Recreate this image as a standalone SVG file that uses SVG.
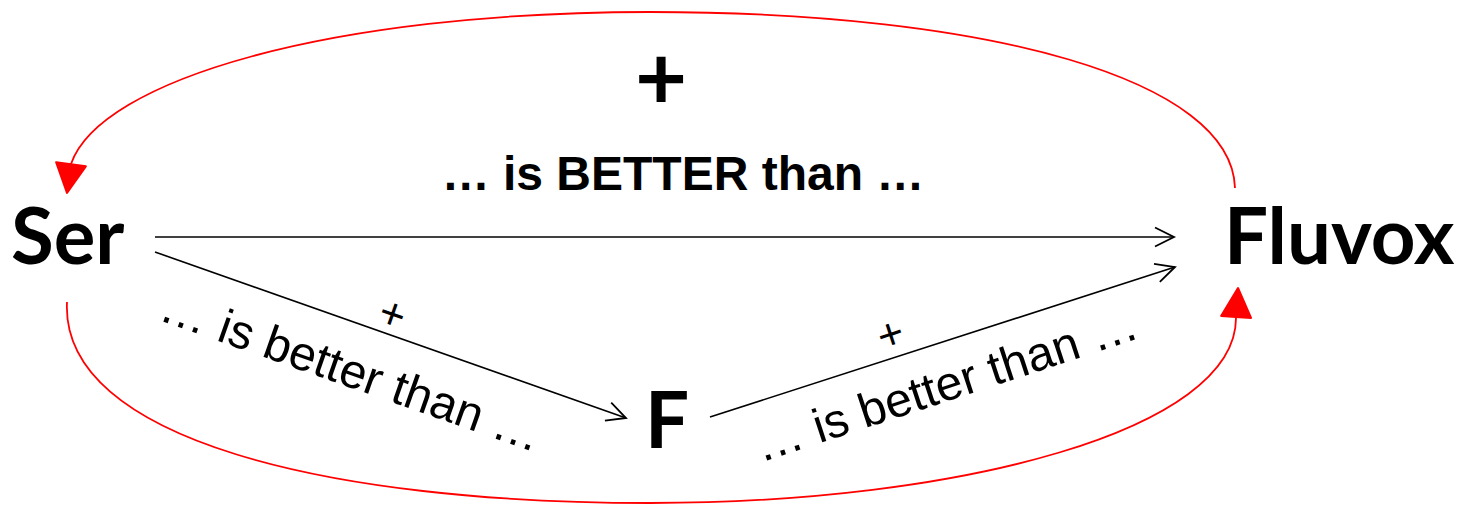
<svg xmlns="http://www.w3.org/2000/svg" width="1469" height="508" viewBox="0 0 1469 508">
<style>
.node{font-family:Lato,"Open Sans",sans-serif;font-weight:700;font-size:78px;fill:#000}
.lbl{font-family:"Liberation Sans",Arial,sans-serif;font-size:48px;fill:#000}
.big{font-weight:700}
.plus{font-family:"Liberation Sans",Arial,sans-serif;font-size:44px;fill:#000}
.edge{fill:none;stroke:#000;stroke-width:1.6}
.loop{fill:none;stroke:#ff0000;stroke-width:1.8}
</style>
<defs>
<marker id="open" markerUnits="userSpaceOnUse" markerWidth="24" markerHeight="24" viewBox="-21 -12 24 24" refX="0" refY="0" orient="auto">
<path d="M-19,-9.5 L0,0 L-19,9.5" fill="none" stroke="#000" stroke-width="1.8"/>
</marker>
<marker id="red" markerUnits="userSpaceOnUse" markerWidth="34" markerHeight="34" viewBox="-32 -17 34 34" refX="0" refY="0" orient="auto">
<path d="M-29,-15 L0,0 L-29,15 Z" fill="#ff0000" stroke="#ff0000" stroke-width="2" stroke-linejoin="round"/>
</marker>
</defs>
<g id="connectors">
<path class="edge" d="M155,237 L1174,237" marker-end="url(#open)"/>
<path class="edge" d="M155,252 L626,418" marker-end="url(#open)"/>
<path class="edge" d="M710,417 L1175,267" marker-end="url(#open)"/>
<path class="loop" d="M1235,188 C1232,80 990,12 650,12 C330,12 100,80 71,164 L67,193" marker-end="url(#red)"/>
<path class="loop" d="M67,302 C60,440 330,503 650,503 C960,503 1236,430 1236,318 L1238,288" marker-end="url(#red)"/>
</g>
<g id="node-ser"><text class="node" x="11" y="264">Ser</text></g>
<g id="node-fluvox"><text class="node" x="1224" y="264">Fluvox</text></g>
<g id="node-f"><text class="node" x="645" y="448">F</text></g>
<g id="label-top">
<text x="661" y="110" text-anchor="middle" style="font-family:Lato,sans-serif;font-weight:700;font-size:90px">+</text>
<text class="lbl big" x="683" y="190" text-anchor="middle">… is BETTER than …</text>
</g>
<g id="label-left">
<text class="plus" transform="translate(393,313) rotate(19.4)" x="0" y="16" text-anchor="middle">+</text>
<text class="lbl" transform="translate(346,386) rotate(19.4)" x="0" y="0" text-anchor="middle">… is better than …</text>
</g>
<g id="label-right">
<text class="plus" transform="translate(890,333) rotate(-18)" x="0" y="16" text-anchor="middle">+</text>
<text class="lbl" transform="translate(951,400) rotate(-18.2)" x="0" y="0" text-anchor="middle">… is better than …</text>
</g>
</svg>
